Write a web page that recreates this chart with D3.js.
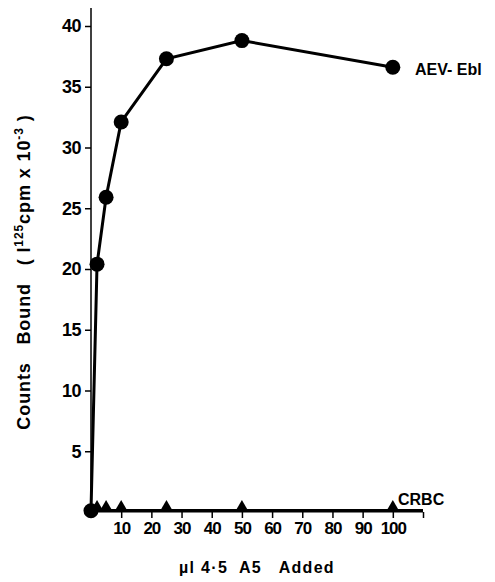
<!DOCTYPE html>
<html>
<head>
<meta charset="utf-8">
<script src="https://cdn.jsdelivr.net/npm/d3@7"></script>
<style>
body { margin: 0; background: #fff; }
text { font-family: "Liberation Sans", Arial, sans-serif; font-weight: bold; fill: #000; }
</style>
</head>
<body>
<div class="canvas"></div>
<script>
const width = 495, height = 582

// AEV-Ebl cells
const aevX = [0, 2, 5, 10, 25, 50, 100]
const aevY = [0.1, 20.4, 25.9, 32.1, 37.3, 38.8, 36.6]
// CRBC control
const crbcX = [0, 2, 5, 10, 25, 50, 100]
const crbcY = [0.1, 0.1, 0.1, 0.1, 0.1, 0.1, 0.1]

const yTicks = [5, 10, 15, 20, 25, 30, 35, 40]
const xTicks = [10, 20, 30, 40, 50, 60, 70, 80, 90, 100, 110]
const xTickLabels = ["10", "20", "30", "40", "50", "60", "70", "80", "90", "100", ""]

const svg = d3.select('.canvas')
  .append('svg')
  .attr('width', width)
  .attr('height', height)

const x = d3.scaleLinear().domain([0, 110]).range([91, 423])
const y = d3.scaleLinear().domain([0, 40]).range([512, 26])

// axes
const yAxis = d3.axisLeft(y).tickValues(yTicks).tickSize(6).tickPadding(4)
const yG = svg.append('g').attr('transform', `translate(${x(0)},0)`).call(yAxis)
yG.select('.domain').remove()
yG.selectAll('text').style('font-size', '18px').attr('letter-spacing', '-0.5')
yG.selectAll('line').attr('stroke-width', 1.5)
svg.append('line')
  .attr('x1', x(0)).attr('x2', x(0))
  .attr('y1', 8).attr('y2', y(0))
  .attr('stroke', '#000').attr('stroke-width', 1.5)

const xAxis = d3.axisBottom(x).tickValues(xTicks).tickSize(6).tickPadding(4)
  .tickFormat((d, i) => xTickLabels[i])
const xG = svg.append('g').attr('transform', `translate(0,${y(0)})`).call(xAxis)
xG.select('.domain').remove()
xG.selectAll('text').style('font-size', '17px').attr('letter-spacing', '-1')
xG.selectAll('line').attr('stroke-width', 1.5)

// CRBC series (runs along the baseline)
const crbc = crbcX.map((d, i) => [d, crbcY[i]])
svg.append('path')
  .datum(crbc.concat([[110, crbcY[6]]]))
  .attr('fill', 'none').attr('stroke', '#000').attr('stroke-width', 3.5)
  .attr('d', d3.line().x(d => x(d[0])).y(d => y(d[1])))
svg.selectAll('.tri')
  .data(crbc.slice(1))
  .join('path')
  .attr('transform', d => `translate(${x(d[0])},${y(d[1]) - 3})`)
  .attr('d', d3.symbol(d3.symbolTriangle, 80))

// AEV-Ebl series
const aev = aevX.map((d, i) => [d, aevY[i]])
svg.append('path')
  .datum(aev)
  .attr('fill', 'none').attr('stroke', '#000').attr('stroke-width', 3)
  .attr('d', d3.line().x(d => x(d[0])).y(d => y(d[1])))
svg.selectAll('.dot')
  .data(aev)
  .join('circle')
  .attr('cx', d => x(d[0])).attr('cy', d => y(d[1]))
  .attr('r', 7.5)

// series labels
svg.append('text').attr('x', 415).attr('y', 75)
  .style('font-size', '16px').text('AEV- Ebl')
svg.append('text').attr('x', 398).attr('y', 505)
  .style('font-size', '16px').text('CRBC')

// axis titles
svg.append('text').attr('x', 257).attr('y', 573)
  .attr('text-anchor', 'middle').style('font-size', '16px')
  .attr('letter-spacing', '1.3')
  .attr('xml:space', 'preserve')
  .text('\u00b5l 4\u00b75  A5   Added')

const yt = svg.append('text')
  .attr('transform', 'translate(30,272) rotate(-90)')
  .attr('text-anchor', 'middle').style('font-size', '18px')
  .attr('letter-spacing', '0.9')
  .attr('xml:space', 'preserve')
yt.append('tspan').text('Counts   Bound   ( I')
yt.append('tspan').attr('dy', -7).style('font-size', '12px').text('125')
yt.append('tspan').attr('dy', 7).text('cpm x 10')
yt.append('tspan').attr('dy', -7).style('font-size', '12px').text('-3')
yt.append('tspan').attr('dy', 7).text(' )')
</script>
</body>
</html>
